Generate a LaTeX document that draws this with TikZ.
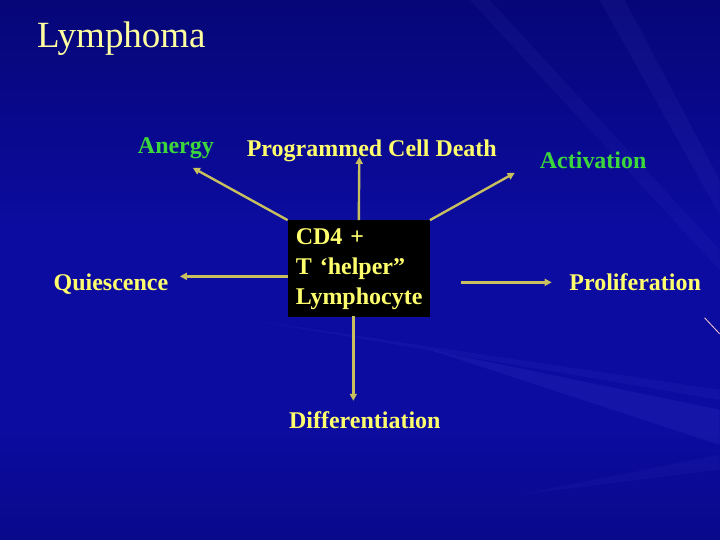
\documentclass[tikz,border=0pt]{standalone}
\usepackage{fontspec}
\setmainfont{Liberation Serif}
\usetikzlibrary{arrows.meta,positioning}
\definecolor{slideblue}{RGB}{12,12,160}
\definecolor{slidedark}{RGB}{5,5,110}
\definecolor{raylight}{RGB}{110,110,235}
\definecolor{titleyellow}{RGB}{255,255,160}
\definecolor{labelyellow}{RGB}{255,255,110}
\definecolor{labelgreen}{RGB}{60,215,60}
\definecolor{arrowkhaki}{RGB}{200,192,95}

\tikzset{
  outcome/.style={font=\fontsize{24}{28}\selectfont\bfseries, text=labelyellow, inner sep=0pt, anchor=base},
  greenout/.style={outcome, text=labelgreen},
  cellbox/.style={fill=black, text=labelyellow, font=\fontsize{24}{30}\selectfont\bfseries,
    minimum width=142pt, minimum height=94pt, align=left, text width=126pt, inner sep=8pt},
  fatearrow/.style={draw=arrowkhaki, line width=2.4pt, -{Triangle[length=7pt,width=7pt]}}
}

\begin{document}
\begin{tikzpicture}[x=1pt, y=-1pt]
% Background
\fill[slideblue] (0,0) rectangle (720,540);
\shade[top color=slidedark, bottom color=slideblue, opacity=0.8] (0,0) rectangle (720,230);
\shade[top color=slideblue, bottom color=slidedark, opacity=0.4] (0,430) rectangle (720,540);
\fill[raylight, opacity=0.10] (430,350) -- (720,410) -- (720,445) -- cycle;
\fill[raylight, opacity=0.07] (250,320) -- (720,390) -- (720,400) -- cycle;
\fill[raylight, opacity=0.07] (600,0) -- (625,0) -- (720,180) -- (720,215) -- cycle;
\fill[raylight, opacity=0.06] (470,0) -- (490,0) -- (720,250) -- (720,270) -- cycle;
\fill[raylight, opacity=0.06] (520,495) -- (720,455) -- (720,470) -- cycle;
\draw[pink!80!white, line width=0.8pt] (705,318) -- (720,334);
\useasboundingbox (0,0) rectangle (720,540);

% Title
\node[anchor=base west, text=titleyellow, font=\fontsize{37}{42}\selectfont, inner sep=0pt] (title) at (37,48) {Lymphoma};

% Central cell
\node[cellbox] (cell) at (359,269) {CD4 +\\T `helper''\\Lymphocyte};

% Outcomes
\node[greenout] (anergy) at (176,154) {Anergy};
\node[outcome] (death) at (372,157) {Programmed Cell Death};
\node[greenout] (activation) at (593.5,169) {Activation};
\node[outcome] (quiescence) at (111,291) {Quiescence};
\node[outcome] (prolif) at (635.5,291) {Proliferation};
\node[outcome] (diff) at (365,429) {Differentiation};

% Arrow ends
\coordinate (anergyend) at (193,168);
\coordinate (deathend) at (359.5,157);
\coordinate (activend) at (515,173);
\coordinate (quiesstart) at (288,276.5);
\coordinate (quiesend) at (180,276.5);
\coordinate (prolifstart) at (461,282.5);
\coordinate (prolifend) at (552,282.5);
\coordinate (diffstart) at (353.5,316);
\coordinate (diffend) at (353.5,401);

\draw[fatearrow] (cell.north west) -- (anergyend);
\draw[fatearrow] (cell.north) -- (deathend);
\draw[fatearrow] (cell.north east) -- (activend);
\draw[fatearrow] (quiesstart) -- (quiesend);
\draw[fatearrow] (prolifstart) -- (prolifend);
\draw[fatearrow] (diffstart) -- (diffend);
\end{tikzpicture}
\end{document}
